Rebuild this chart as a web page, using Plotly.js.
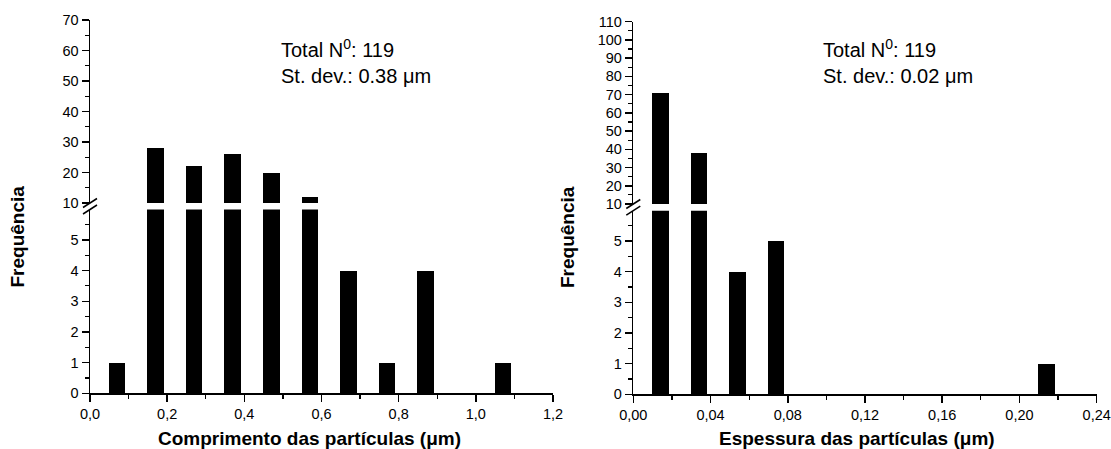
<!DOCTYPE html>
<html>
<head>
<meta charset="utf-8">
<script src="https://cdn.plot.ly/plotly-3.0.1.min.js"></script>
<style>html,body{margin:0;padding:0;background:#fff;}#chart{width:1111px;height:449px;}</style>
</head>
<body>
<div id="chart"></div>
<script>
// ---- data ----
const lengthBins = [0.07, 0.17, 0.27, 0.37, 0.47, 0.57, 0.67, 0.77, 0.87, 0.97, 1.07];
const lengthCounts = [1, 28, 22, 26, 20, 12, 4, 1, 4, 0, 1];
const thickBins = [0.014, 0.034, 0.054, 0.074, 0.094, 0.114, 0.134, 0.154, 0.174, 0.194, 0.214];
const thickCounts = [71, 38, 4, 5, 0, 0, 0, 0, 0, 0, 1];
const leftXTitle = 'Comprimento das partículas (μm)';
const rightXTitle = 'Espessura das partículas (μm)';
const yTitle = 'Frequência';
const leftNote = 'Total N<sup>0</sup>: 119<br>St. dev.: 0.38 μm';
const rightNote = 'Total N<sup>0</sup>: 119<br>St. dev.: 0.02 μm';

// ---- layout helpers (pixel -> paper) ----
const W = 1111, H = 449;
const px = x => x / W;
const py = y => 1 - y / H;
const FONT = 'Liberation Sans, Arial, sans-serif';

const axisBase = {
  showline: true, linecolor: '#000', linewidth: 1.5,
  ticks: 'outside', ticklen: 7, tickwidth: 1.5, tickcolor: '#000',
  showgrid: false, zeroline: false, fixedrange: true,
  tickfont: {family: FONT, size: 14.5, color: '#000'}
};
function ax(extra) { return Object.assign({}, axisBase, extra); }

const barStyle = {type: 'bar', marker: {color: '#000', line: {width: 0}}, hoverinfo: 'skip', showlegend: false};

const traces = [
  Object.assign({}, barStyle, {x: lengthBins, y: lengthCounts, width: 0.043, xaxis: 'x', yaxis: 'y'}),
  Object.assign({}, barStyle, {x: lengthBins, y: lengthCounts, width: 0.043, xaxis: 'x', yaxis: 'y2'}),
  Object.assign({}, barStyle, {x: thickBins, y: thickCounts, width: 0.0085, xaxis: 'x2', yaxis: 'y3'}),
  Object.assign({}, barStyle, {x: thickBins, y: thickCounts, width: 0.0085, xaxis: 'x2', yaxis: 'y4'})
];

const minorY = (d) => ({ticks: 'outside', ticklen: 4, tickwidth: 1.2, tickcolor: '#000', dtick: d, tick0: 0, showgrid: false});

function breakMarks(axX, yUp, yLow) {
  const dx = 7, dy = 4.5;
  return [yUp, yLow].map(y => ({
    type: 'line', xref: 'paper', yref: 'paper',
    x0: px(axX - dx), y0: py(y + dy), x1: px(axX + dx), y1: py(y - dy),
    line: {color: '#000', width: 1.5}
  }));
}

const layout = {
  width: W, height: H,
  margin: {l: 0, r: 0, t: 0, b: 0, pad: 0},
  paper_bgcolor: '#fff', plot_bgcolor: 'rgba(0,0,0,0)',
  separators: ', ',
  bargap: 0,
  showlegend: false,
  hovermode: false,
  xaxis: ax({domain: [px(90), px(553)], range: [0, 1.2], dtick: 0.2, tick0: 0, tickformat: '.1f', anchor: 'y',
    minor: {ticks: 'outside', ticklen: 4, tickwidth: 1.2, tickcolor: '#000', dtick: 0.1, tick0: 0, showgrid: false}}),
  yaxis: ax({domain: [py(393.3), py(209.5)], range: [0, 5.99], dtick: 1, tick0: 0, anchor: 'x', minor: minorY(0.5)}),
  yaxis2: ax({domain: [py(203), py(20)], range: [10, 70], dtick: 10, tick0: 10, anchor: 'x', minor: minorY(5)}),
  xaxis2: ax({domain: [px(633.3), px(1096.7)], range: [0, 0.24], dtick: 0.04, tick0: 0, tickformat: '.2f', anchor: 'y3',
    minor: {ticks: 'outside', ticklen: 4, tickwidth: 1.2, tickcolor: '#000', dtick: 0.02, tick0: 0, showgrid: false}}),
  yaxis3: ax({domain: [py(394.3), py(210.7)], range: [0, 5.99], dtick: 1, tick0: 0, anchor: 'x2', minor: minorY(0.5)}),
  yaxis4: ax({domain: [py(204), py(21.7)], range: [10, 110], dtick: 10, tick0: 10, anchor: 'x2', minor: minorY(5)}),
  shapes: [].concat(breakMarks(90, 203, 209.5), breakMarks(633.3, 204, 210.7)),
  annotations: [
    {xref: 'paper', yref: 'paper', x: px(309.7), y: py(438), xanchor: 'center', yanchor: 'middle', showarrow: false,
     text: leftXTitle, font: {family: FONT, size: 19, color: '#000', weight: 'bold'}},
    {xref: 'paper', yref: 'paper', x: px(856.7), y: py(438), xanchor: 'center', yanchor: 'middle', showarrow: false,
     text: rightXTitle, font: {family: FONT, size: 19, color: '#000', weight: 'bold'}},
    {xref: 'paper', yref: 'paper', x: px(17.5), y: py(237), xanchor: 'center', yanchor: 'middle', showarrow: false, textangle: -90,
     text: yTitle, font: {family: FONT, size: 19, color: '#000', weight: 'bold'}},
    {xref: 'paper', yref: 'paper', x: px(568), y: py(237), xanchor: 'center', yanchor: 'middle', showarrow: false, textangle: -90,
     text: yTitle, font: {family: FONT, size: 19, color: '#000', weight: 'bold'}},
    {xref: 'paper', yref: 'paper', x: px(279), y: py(61), xanchor: 'left', yanchor: 'middle', align: 'left', showarrow: false,
     text: leftNote, font: {family: FONT, size: 20, color: '#000'}},
    {xref: 'paper', yref: 'paper', x: px(821), y: py(61), xanchor: 'left', yanchor: 'middle', align: 'left', showarrow: false,
     text: rightNote, font: {family: FONT, size: 20, color: '#000'}}
  ]
};

Plotly.newPlot('chart', traces, layout, {displayModeBar: false, staticPlot: true});
</script>
</body>
</html>
